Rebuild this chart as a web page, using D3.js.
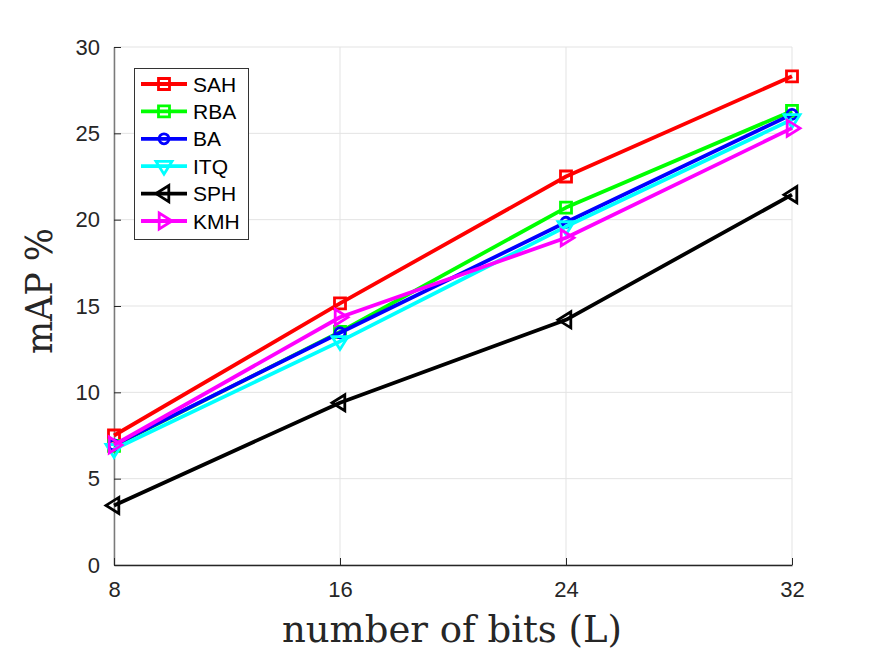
<!DOCTYPE html>
<html>
<head>
<meta charset="utf-8">
<script src="https://d3js.org/d3.v7.min.js"></script>
<style>
  body { margin: 0; background: #fff; }
</style>
</head>
<body>
<svg id="chart" width="875" height="657"></svg>
<script>
// data
var bits = [8, 16, 24, 32];
var sah = [7.5, 15.15, 22.5, 28.3];
var rba = [6.9, 13.5, 20.7, 26.3];
var ba  = [6.95, 13.45, 19.85, 26.1];
var itq = [6.7, 12.95, 19.6, 25.8];
var sph = [3.45, 9.4, 14.2, 21.45];
var kmh = [6.95, 14.35, 18.95, 25.3];
var yTicks = [0, 5, 10, 15, 20, 25, 30];

var series = [
  {name: "SAH", vals: sah, color: "#ff0000", marker: "square"},
  {name: "RBA", vals: rba, color: "#00ff00", marker: "square"},
  {name: "BA",  vals: ba,  color: "#0000ff", marker: "circle"},
  {name: "ITQ", vals: itq, color: "#00ffff", marker: "down"},
  {name: "SPH", vals: sph, color: "#000000", marker: "left"},
  {name: "KMH", vals: kmh, color: "#ff00ff", marker: "right"}
];

var sans = "'Liberation Sans', Arial, sans-serif";
var serif = "'DejaVu Serif', 'Liberation Serif', serif";

var svg = d3.select("#chart");
var x = d3.scaleLinear().domain([8, 32]).range([114, 792]);
var y = d3.scaleLinear().domain([0, 30]).range([565, 47]);

// grid
svg.append("g").selectAll("line").data(yTicks).enter().append("line")
  .attr("x1", x(8)).attr("x2", x(32))
  .attr("y1", d => y(d)).attr("y2", d => y(d))
  .attr("stroke", "#e3e3e3").attr("stroke-width", 1);
svg.append("g").selectAll("line").data(bits).enter().append("line")
  .attr("x1", d => x(d)).attr("x2", d => x(d))
  .attr("y1", y(0)).attr("y2", y(30))
  .attr("stroke", "#e3e3e3").attr("stroke-width", 1);

// axes
var yAxis = d3.axisLeft(y).tickValues(yTicks).tickSizeInner(-7).tickSizeOuter(0).tickPadding(14);
var gy = svg.append("g").attr("transform", "translate(" + x(8) + ",0)").call(yAxis);
gy.select(".domain").attr("stroke", "#7a7a7a").attr("stroke-width", 1.5);
gy.selectAll(".tick line").attr("stroke", "#262626");
gy.selectAll("text").style("font-size", "22px").style("font-family", sans).attr("fill", "#262626");

var xAxis = d3.axisBottom(x).tickValues(bits).tickSizeInner(-7).tickSizeOuter(0).tickPadding(16);
var gx = svg.append("g").attr("transform", "translate(0," + y(0) + ")").call(xAxis);
gx.select(".domain").attr("stroke", "#262626").attr("stroke-width", 1.5);
gx.selectAll(".tick line").attr("stroke", "#262626");
gx.selectAll("text").style("font-size", "22px").style("font-family", sans).attr("fill", "#262626");

// markers
function markerPath(type, cx, cy) {
  var s = 5.5, t = 8;
  if (type == "square") {
    return "M" + (cx - s) + "," + (cy - s) + "h" + (2 * s) + "v" + (2 * s) + "h" + (-2 * s) + "Z";
  } else if (type == "circle") {
    var r = 5;
    return "M" + (cx - r) + "," + cy + "a" + r + "," + r + " 0 1,0 " + (2 * r) + ",0a" + r + "," + r + " 0 1,0 " + (-2 * r) + ",0Z";
  } else if (type == "down") {
    return "M" + (cx - t) + "," + (cy - t * 0.6) + "L" + (cx + t) + "," + (cy - t * 0.6) + "L" + cx + "," + (cy + t) + "Z";
  } else if (type == "left") {
    return "M" + (cx + t * 0.6) + "," + (cy - t) + "L" + (cx + t * 0.6) + "," + (cy + t) + "L" + (cx - t) + "," + cy + "Z";
  } else {
    return "M" + (cx - t * 0.6) + "," + (cy - t) + "L" + (cx - t * 0.6) + "," + (cy + t) + "L" + (cx + t) + "," + cy + "Z";
  }
}

var line = d3.line().x((d, i) => x(bits[i])).y(d => y(d));

series.forEach(function(s) {
  var g = svg.append("g");
  g.append("path").datum(s.vals).attr("d", line)
    .attr("fill", "none").attr("stroke", s.color).attr("stroke-width", 3.8)
    .attr("stroke-linejoin", "round");
  g.selectAll("path.m").data(s.vals).enter().append("path")
    .attr("class", "m")
    .attr("d", (d, i) => markerPath(s.marker, x(bits[i]), y(d)))
    .attr("fill", "none").attr("stroke", s.color).attr("stroke-width", 2.8);
});

// legend
var lg = svg.append("g");
lg.append("rect").attr("x", 134.5).attr("y", 68.5).attr("width", 114).attr("height", 171)
  .attr("fill", "#fff").attr("stroke", "#333").attr("stroke-width", 1);
series.forEach(function(s, i) {
  var ly = 84 + i * 27.4;
  lg.append("line").attr("x1", 141).attr("x2", 187).attr("y1", ly).attr("y2", ly)
    .attr("stroke", s.color).attr("stroke-width", 3.8);
  lg.append("path").attr("d", markerPath(s.marker, 164, ly))
    .attr("fill", "none").attr("stroke", s.color).attr("stroke-width", 2.8);
  lg.append("text").attr("x", 193).attr("y", ly + 7.5)
    .style("font-size", "21px").style("font-family", sans)
    .attr("fill", "#000").text(s.name);
});

// axis titles
svg.append("text").attr("x", 452).attr("y", 642).attr("text-anchor", "middle")
  .style("font-family", serif).style("font-size", "37px")
  .attr("fill", "#262626").text("number of bits (L)");
svg.append("text").attr("transform", "translate(52,291) rotate(-90)").attr("text-anchor", "middle")
  .style("font-family", serif).style("font-size", "38px")
  .attr("textLength", 126).attr("lengthAdjust", "spacingAndGlyphs")
  .attr("fill", "#262626").text("mAP %");
</script>
</body>
</html>
